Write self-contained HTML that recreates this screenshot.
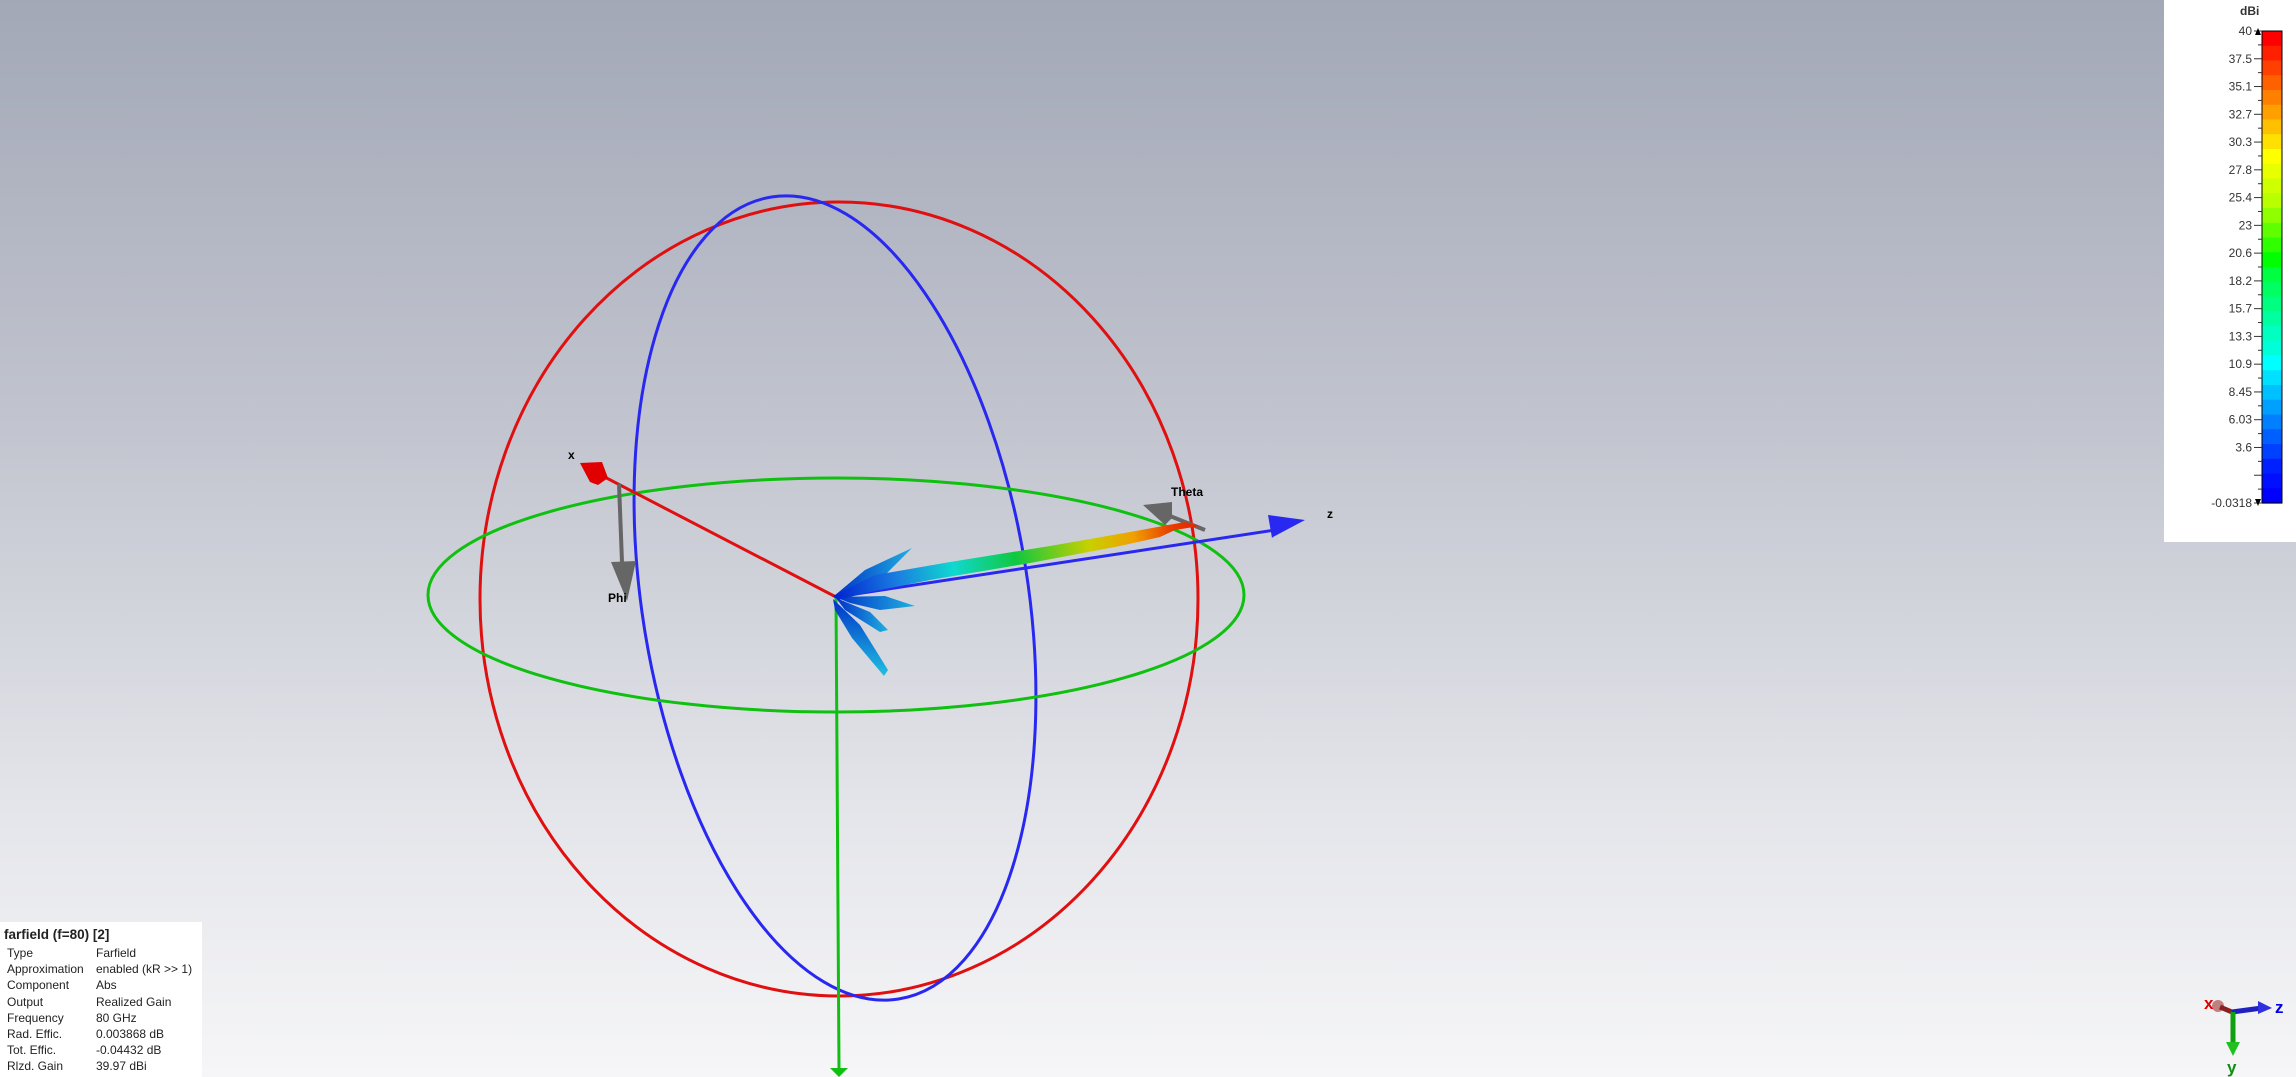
<!DOCTYPE html>
<html><head><meta charset="utf-8">
<style>
html,body{margin:0;padding:0;}
body{width:2296px;height:1077px;overflow:hidden;position:relative;font-family:"Liberation Sans",sans-serif;
background:linear-gradient(to bottom,#a3a8b7 0%,#c2c5cf 40%,#e4e5ea 75%,#f6f6f8 100%);}
#info{position:absolute;left:0;top:922px;width:202px;height:155px;background:#fff;font-size:12px;color:#222;}
#info .t{font-weight:bold;font-size:13.5px;position:absolute;left:4px;top:5px;}
#info .r{position:absolute;left:7px;}
#info .v{position:absolute;left:96px;}
#cb{position:absolute;left:2164px;top:0;width:132px;height:542px;background:#fff;}
</style></head><body>
<svg id="scene" width="2296" height="1077" style="position:absolute;left:0;top:0">
 <defs>
  <linearGradient id="beamg" x1="833" y1="596" x2="1200" y2="528" gradientUnits="userSpaceOnUse">
   <stop offset="0" stop-color="#0020d0"/><stop offset="0.18" stop-color="#1a7fe0"/>
   <stop offset="0.33" stop-color="#10d8d0"/><stop offset="0.5" stop-color="#10c840"/>
   <stop offset="0.7" stop-color="#c8d000"/><stop offset="0.82" stop-color="#f0a000"/>
   <stop offset="0.92" stop-color="#e84000"/><stop offset="1" stop-color="#e82000"/>
  </linearGradient>
  <linearGradient id="lobeg" x1="0" y1="0" x2="1" y2="0">
   <stop offset="0" stop-color="#0030c8"/><stop offset="1" stop-color="#20b0e0"/>
  </linearGradient>
  <linearGradient id="lobeg2" x1="0" y1="0" x2="0" y2="1">
   <stop offset="0" stop-color="#0030c8"/><stop offset="1" stop-color="#20c0e0"/>
  </linearGradient>
 </defs>
 <ellipse cx="839" cy="599" rx="359" ry="397" fill="none" stroke="#e01010" stroke-width="3"/>
 <ellipse cx="835" cy="598" rx="193" ry="406" transform="rotate(-9 835 598)" fill="none" stroke="#2828f0" stroke-width="3"/>
 <ellipse cx="836" cy="595" rx="408" ry="117" fill="none" stroke="#10c010" stroke-width="3"/>
 <line x1="836" y1="598" x2="839" y2="1068" stroke="#10c010" stroke-width="3"/>
 <polygon points="830,1068 848,1068 839,1077" fill="#10c010"/>
 <line x1="836" y1="597" x2="595" y2="472" stroke="#e01010" stroke-width="3"/>
 <polygon points="580,463 602,462 608,478 598,485 590,482" fill="#e00000"/>
 <text x="568" y="459" font-size="12" font-weight="bold">x</text>
 <line x1="836" y1="597" x2="1275" y2="530" stroke="#2828f0" stroke-width="3"/>
 <polygon points="1268,515 1272,538 1273,537 1305,520" fill="#2828f0"/>
 <text x="1327" y="518" font-size="12" font-weight="bold">z</text>
 <line x1="619" y1="484" x2="622" y2="562" stroke="#666" stroke-width="4"/>
 <polygon points="611,562 636,561 627,601" fill="#666"/>
 <text x="608" y="602" font-size="12" font-weight="bold">Phi</text>
 <line x1="1205" y1="530" x2="1160" y2="512" stroke="#666" stroke-width="4"/>
 <polygon points="1143,505 1172,502 1172,518 1165,525" fill="#666"/>
 <text x="1171" y="496" font-size="12" font-weight="bold">Theta</text>
 <g>
  <polygon points="834,596 865,570 912,548 895,565 880,580" fill="url(#lobeg)"/>
  <polygon points="835,597 885,596 915,606 880,610 850,603" fill="url(#lobeg)"/>
  <polygon points="836,598 870,612 888,630 880,632 845,610" fill="url(#lobeg)"/>
  <polygon points="833,599 860,625 888,670 884,676 852,638 835,610" fill="url(#lobeg2)"/>
  <polygon points="833,596 875,575 950,562 1050,546 1130,532 1185,522 1200,526 1175,530 1160,537 1120,546 1030,563 930,580 870,592 838,600" fill="url(#beamg)"/>
 </g>
 <g>
  <circle cx="2218" cy="1006" r="6" fill="#c08080"/>
  <line x1="2232" y1="1012" x2="2220" y2="1007" stroke="#8a2020" stroke-width="5"/>
  <line x1="2232" y1="1012" x2="2262" y2="1008" stroke="#2020c0" stroke-width="5"/>
  <polygon points="2258,1001 2272,1008 2258,1014" fill="#3030e0"/>
  <line x1="2233" y1="1012" x2="2233" y2="1044" stroke="#10a010" stroke-width="5"/>
  <polygon points="2226,1042 2240,1042 2233,1056" fill="#20c020"/>
  <text x="2204" y="1009" font-size="17" font-weight="bold" fill="#e00000">x</text>
  <text x="2275" y="1013" font-size="17" font-weight="bold" fill="#0000e0">z</text>
  <text x="2227" y="1073" font-size="17" font-weight="bold" fill="#109010">y</text>
 </g>
</svg>

<div id="cb">
 <svg id="cbsvg" width="132" height="542"></svg>
</div>

<div id="info">
 <div class="t">farfield (f=80) [2]</div>
</div>

<script>
const cbTicks = ["40","37.5","35.1","32.7","30.3","27.8","25.4","23","20.6","18.2","15.7","13.3","10.9","8.45","6.03","3.6","","-0.0318"];
const cbColors = ["#ff0000","#ff2000","#ff4000","#ff6000","#ff8000","#ffa000","#ffc000","#ffe000","#ffff00","#e8ff00","#d0ff00","#b8ff00","#90ff00","#60ff00","#30ff00","#00ff00","#00ff40","#00ff60","#00ff80","#00ffa0","#00ffc0","#00ffd8","#00ffff","#00e0ff","#00c0ff","#00a0ff","#0080ff","#0060ff","#0040ff","#0020ff","#0010ff","#0000ff"];
const infoLabels = ["Type","Approximation","Component","Output","Frequency","Rad. Effic.","Tot. Effic.","Rlzd. Gain"];
const infoValues = ["Farfield","enabled (kR >> 1)","Abs","Realized Gain","80 GHz","0.003868 dB","-0.04432 dB","39.97 dBi"];

const NS="http://www.w3.org/2000/svg";
const cb=document.getElementById('cbsvg');
const barX=98, barW=20, barTop=31, barBot=503;
function mk(tag,attrs){const e=document.createElementNS(NS,tag);for(const k in attrs)e.setAttribute(k,attrs[k]);cb.appendChild(e);return e;}
const title=mk('text',{x:76,y:15,'font-size':12,'font-weight':'bold',fill:'#333'});
title.textContent='dBi';


const segH=(barBot-barTop)/cbColors.length;
cbColors.forEach((c,i)=>{
 const r=mk('rect',{x:barX,y:barTop+i*segH,width:barW,height:segH+0.6,fill:c});
 
 
});
mk('rect',{x:barX,y:barTop,width:barW,height:barBot-barTop,fill:'none',stroke:'#000','stroke-width':1});
const step=(barBot-barTop)/(cbTicks.length-1);
cbTicks.forEach((t,i)=>{
 const y=barTop+i*step;
 mk('line',{x1:barX-8,y1:y,x2:barX,y2:y,stroke:'#333','stroke-width':1});
 if(i<cbTicks.length-1) mk('line',{x1:barX-4,y1:y+step/2,x2:barX,y2:y+step/2,stroke:'#333','stroke-width':1});
 if(t){
  const tx=mk('text',{x:barX-10,y:y+4,'font-size':12,'text-anchor':'end',fill:'#333'});
  tx.textContent=t;
  
  
 }
});
mk('polygon',{points:`${barX-7},${barTop+4} ${barX-1},${barTop+4} ${barX-4},${barTop-3}`,fill:'#000'});
mk('polygon',{points:`${barX-7},${barBot-4} ${barX-1},${barBot-4} ${barX-4},${barBot+3}`,fill:'#000'});

const info=document.getElementById('info');
infoLabels.forEach((l,i)=>{
 const y=24+i*16.2;
 const a=document.createElement('div');a.className='r';a.style.top=y+'px';a.textContent=l;
 
 
 info.appendChild(a);
 const b=document.createElement('div');b.className='v';b.style.top=y+'px';b.textContent=infoValues[i];
 
 
 info.appendChild(b);
});
</script>
</body></html>
